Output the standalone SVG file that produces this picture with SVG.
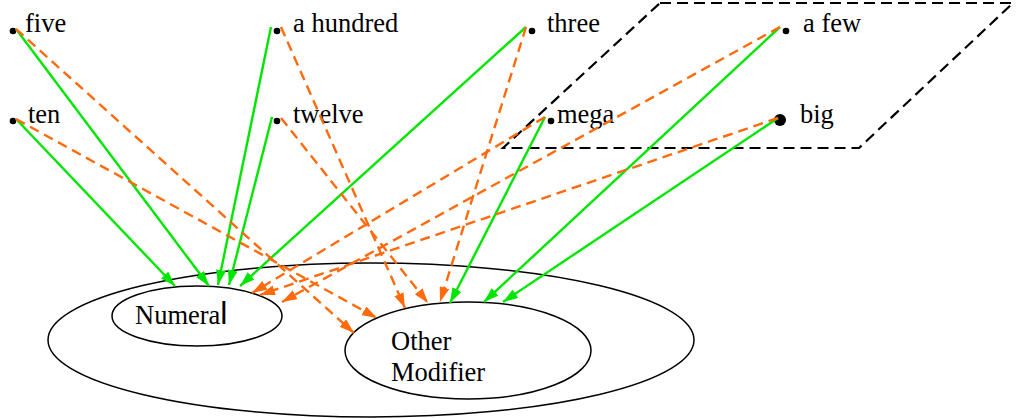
<svg xmlns="http://www.w3.org/2000/svg" width="1016" height="418" viewBox="0 0 1016 418">
  <style>
    .word { font-family: "Liberation Serif", "Times New Roman", serif; font-size: 26.5px; fill: #000; }
    .set { fill: none; stroke: #000; stroke-width: 1.5; }
    .dot { fill: #000; }
    .num { fill: none; stroke: #00e600; stroke-width: 2.4; marker-end: url(#arrowGreen); }
    .mod { fill: none; stroke: #ff6a0d; stroke-width: 2.4; stroke-dasharray: 10 6; marker-end: url(#arrowOrange); }
    .frame { fill: none; stroke: #000; stroke-width: 2.2; stroke-dasharray: 11 6; }
  </style>
  <defs>
    <marker id="arrowGreen" viewBox="0 0 15 10" refX="15" refY="5" markerWidth="15" markerHeight="10" markerUnits="userSpaceOnUse" orient="auto">
      <path d="M0,0 L15,5 L0,10 z" fill="#00e600"/>
    </marker>
    <marker id="arrowOrange" viewBox="0 0 15 10" refX="15" refY="5" markerWidth="15" markerHeight="10" markerUnits="userSpaceOnUse" orient="auto">
      <path d="M0,0 L15,5 L0,10 z" fill="#ff6a0d"/>
    </marker>
  </defs>
  <rect width="1016" height="418" fill="#fff"/>

  <!-- dashed region around the non-numeral words -->
  <polygon id="region" class="frame" points="660,3 1013,3 859,148 503,148"/>

  <!-- category sets -->
  <g id="modifier-set">
    <ellipse class="set" cx="371" cy="340" rx="323" ry="77"/>
  </g>
  <g id="numeral">
    <ellipse class="set" cx="197" cy="316" rx="85" ry="30"/>
    <text class="word" x="135" y="324">Numera<tspan font-family="Liberation Sans, Arial, sans-serif" font-size="32">l</tspan></text>
  </g>
  <g id="other-modifier">
    <ellipse class="set" cx="468" cy="350.5" rx="123" ry="48.5"/>
    <text class="word" x="391" y="350">Other</text>
    <text class="word" x="391" y="381">Modifier</text>
  </g>

  <!-- words -->
  <g id="w-five"><circle class="dot" cx="13" cy="31" r="3.3"/><text class="word" x="25" y="32">five</text></g>
  <g id="w-ten"><circle class="dot" cx="13" cy="121" r="3.3"/><text class="word" x="28" y="123">ten</text></g>
  <g id="w-hundred"><circle class="dot" cx="277" cy="31" r="3.3"/><text class="word" x="293" y="32">a hundred</text></g>
  <g id="w-twelve"><circle class="dot" cx="277" cy="121" r="3.3"/><text class="word" x="293" y="123">twelve</text></g>
  <g id="w-three"><circle class="dot" cx="532" cy="31" r="3.3"/><text class="word" x="547" y="32">three</text></g>
  <g id="w-mega"><circle class="dot" cx="551" cy="121" r="3.3"/><text class="word" x="557" y="123">mega</text></g>
  <g id="w-few"><circle class="dot" cx="786" cy="31" r="3.3"/><text class="word" x="803" y="32">a few</text></g>
  <g id="w-big"><circle class="dot" cx="780" cy="120" r="6"/><text class="word" x="800" y="123">big</text></g>

  <!-- readings -->
  <g id="connectors">
    <!-- numeral readings -->
    <line class="num" x1="16" y1="29" x2="209" y2="286"/>
    <line class="num" x1="16" y1="119" x2="175" y2="286"/>
    <line class="num" x1="271" y1="27" x2="218" y2="285"/>
    <line class="num" x1="272" y1="117" x2="229" y2="285"/>
    <line class="num" x1="526" y1="27" x2="240" y2="286"/>
    <!-- modifier readings -->
    <line class="num" x1="545" y1="117" x2="450" y2="303"/>
    <line class="num" x1="780" y1="27" x2="484" y2="302"/>
    <line class="num" x1="778" y1="118" x2="503" y2="302"/>

    <line class="mod" x1="16" y1="29" x2="354" y2="333"/>
    <line class="mod" x1="16" y1="119" x2="377" y2="318"/>
    <line class="mod" x1="281" y1="27" x2="405" y2="308"/>
    <line class="mod" x1="281" y1="118" x2="428" y2="303"/>
    <line class="mod" x1="526" y1="27" x2="440" y2="302"/>
    <!-- numeral readings of non-numerals -->
    <line class="mod" x1="545" y1="117" x2="252" y2="293"/>
    <line class="mod" x1="780" y1="27" x2="282" y2="302"/>
    <line class="mod" x1="778" y1="118" x2="260" y2="295"/>
  </g>
</svg>
